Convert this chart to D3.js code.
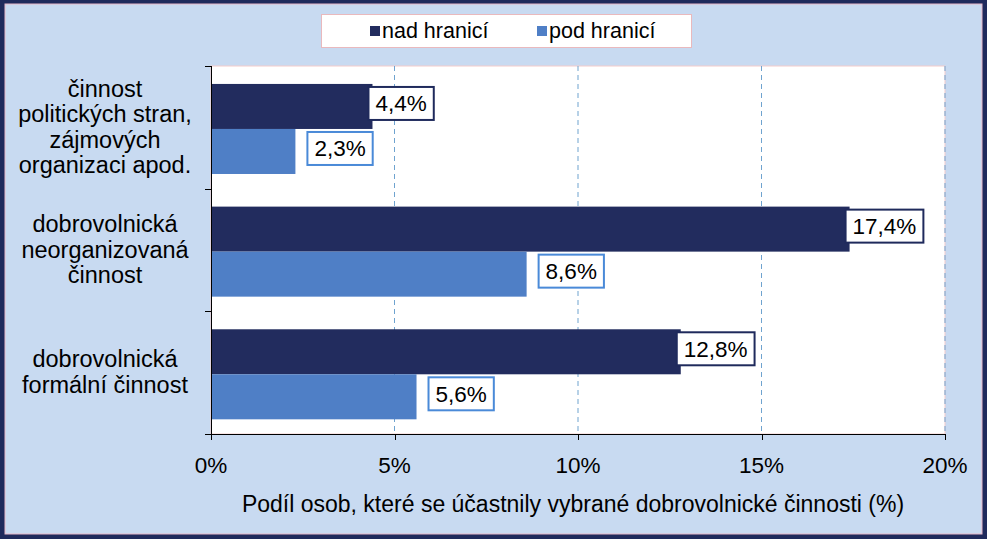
<!DOCTYPE html>
<html><head><meta charset="utf-8">
<script src="https://cdn.jsdelivr.net/npm/d3@7"></script>
<style>
html,body{margin:0;padding:0;background:#fff;}
text{font-family:Arial,"Liberation Sans",sans-serif;fill:#000;}
</style></head>
<body>
<script>
const categories = [
  ["činnost","politických stran,","zájmových","organizaci apod."],
  ["dobrovolnická","neorganizovaná","činnost"],
  ["dobrovolnická","formální činnost"]
];
const seriesNames = ["nad hranicí","pod hranicí"];
const nadValues = [4.4, 17.4, 12.8];
const podValues = [2.3, 8.6, 5.6];
const xTicks = [0, 5, 10, 15, 20];
const axisTitle = "Podíl osob, které se účastnily vybrané dobrovolnické činnosti (%)";

const W = 987, H = 539;
const colors = ["#222c5e", "#4f7fc6"];
const labelBorders = ["#1f2a5c", "#4a8ad8"];
const svg = d3.select("body").append("svg").attr("width", W).attr("height", H);

// outer frame
svg.append("rect").attr("x",0).attr("y",0).attr("width",W).attr("height",H).attr("fill","#1f2a5c");
svg.append("rect").attr("x",5).attr("y",4).attr("width",W-10).attr("height",H-9)
  .attr("fill","#c8daf1").attr("stroke","#e8b8c8").attr("stroke-width",1);

const px0 = 211, px1 = 945, py0 = 66, py1 = 434;
svg.append("rect").attr("x",px0).attr("y",py0).attr("width",px1-px0).attr("height",py1-py0)
  .attr("fill","#ffffff").attr("stroke","#f3cccc").attr("stroke-width",1);

const x = d3.scaleLinear().domain([0,20]).range([px0, px1]);
const idx = categories.map((c,i)=>i);
const y = d3.scaleBand().domain(idx).range([py0, py1]).paddingInner(0.266).paddingOuter(0.133).align(0.55);
const ys = d3.scaleBand().domain([0,1]).range([0, y.bandwidth()]);

// gridlines
svg.append("g").selectAll("line").data(xTicks.filter(t=>t>0)).join("line")
  .attr("x1",d=>x(d)).attr("x2",d=>x(d)).attr("y1",py0).attr("y2",py1)
  .attr("stroke","#6fa3cf").attr("stroke-width",1).attr("stroke-dasharray","5,4");

// bars
const rows = [];
idx.forEach(i=>{
  rows.push({c:i, s:0, v:nadValues[i]});
  rows.push({c:i, s:1, v:podValues[i]});
});
svg.append("g").selectAll("rect").data(rows).join("rect")
  .attr("x", x(0)).attr("y", d=>y(d.c)+ys(d.s))
  .attr("width", d=>x(d.v)-x(0)).attr("height", ys.bandwidth())
  .attr("fill", d=>colors[d.s]);

// axes
const ax = svg.append("g").attr("stroke","#000").attr("stroke-width",1);
ax.append("line").attr("x1",px0+0.5).attr("x2",px0+0.5).attr("y1",py0).attr("y2",py1+6);
ax.append("line").attr("x1",px0-6).attr("x2",px1).attr("y1",py1+0.5).attr("y2",py1+0.5);
const seps = d3.range(categories.length+1).map(i=>py0 + i*(py1-py0)/categories.length);
ax.selectAll(".yt").data(seps).join("line").attr("class","yt")
  .attr("x1",px0-6).attr("x2",px0).attr("y1",d=>Math.round(d)+0.5).attr("y2",d=>Math.round(d)+0.5);
ax.selectAll(".xt").data(xTicks).join("line").attr("class","xt")
  .attr("x1",d=>Math.round(x(d))+0.5).attr("x2",d=>Math.round(x(d))+0.5).attr("y1",py1).attr("y2",py1+6);

// tick labels
svg.append("g").selectAll("text").data(xTicks).join("text")
  .attr("x",d=>x(d)).attr("y",473).attr("text-anchor","middle")
  .style("font-size","22.5px").text(d=>d+"%");

svg.append("text").attr("x",573).attr("y",512).attr("text-anchor","middle")
  .style("font-size","23px").text(axisTitle);

// category labels
const lh = 25.5;
categories.forEach((lines,i)=>{
  const cy = (seps[i]+seps[i+1])/2 + 7.5;
  const t = svg.append("text").attr("text-anchor","middle").style("font-size","23.5px");
  lines.forEach((ln,j)=>{
    t.append("tspan").attr("x",105).attr("y", cy + (j-(lines.length-1)/2)*lh).text(ln);
  });
});

// data labels
const fmt = v => String(v.toFixed(1)).replace(".",",")+"%";
const lg = svg.append("g");
rows.forEach(d=>{
  const end = x(d.v);
  const cy = y(d.c)+ys(d.s)+ys.bandwidth()/2 - 3;
  const g = lg.append("g");
  const t = g.append("text").attr("y", cy+8).attr("text-anchor","middle")
    .style("font-size","22.5px").text(fmt(d.v));
  const tw = t.node().getComputedTextLength();
  const bw = tw + 14, bh = 33;
  const left = d.s===0 ? end-4 : end+12;
  g.insert("rect","text").attr("x",left).attr("y",cy-bh/2).attr("width",bw).attr("height",bh)
    .attr("fill","#fff").attr("stroke",labelBorders[d.s]).attr("stroke-width",2);
  t.attr("x", left+bw/2);
});

// legend
const leg = svg.append("g");
leg.append("rect").attr("x",321.5).attr("y",14.5).attr("width",370).attr("height",33)
  .attr("fill","#fff").attr("stroke","#e9b9bd").attr("stroke-width",1);
const legX = [370, 537];
seriesNames.forEach((n,i)=>{
  leg.append("rect").attr("x",legX[i]).attr("y",26).attr("width",10).attr("height",10).attr("fill",colors[i]);
  leg.append("text").attr("x",legX[i]+12).attr("y",38).style("font-size","21.5px").text(n);
});
</script>
</body></html>
